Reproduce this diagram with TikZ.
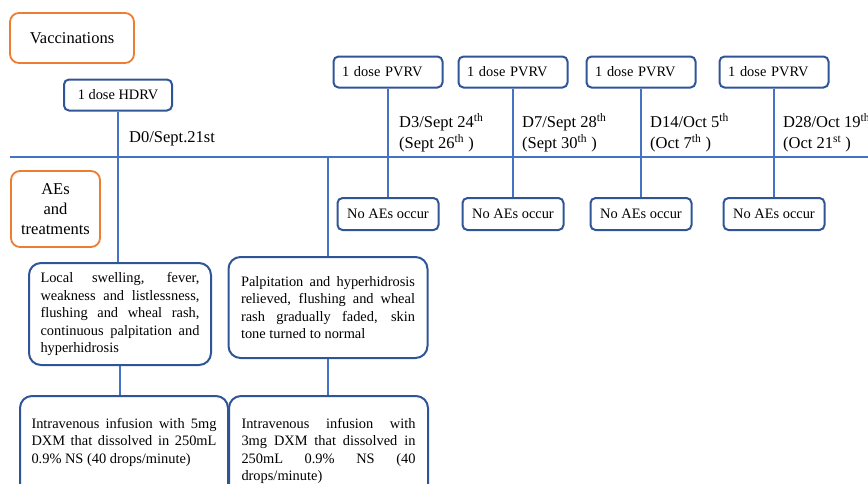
\documentclass[tikz,border=0pt]{standalone}
\usepackage{fontspec}
\setmainfont{Liberation Serif}
\usepackage{tikz}
\usetikzlibrary{positioning, calc}
\usepackage{xcolor}
\definecolor{lineBlue}{HTML}{4472C4}
\definecolor{boxBlue}{HTML}{2F5597}
\definecolor{headOrange}{HTML}{ED7D31}
\tolerance=9999
\hbadness=10000
\hyphenpenalty=10000

\begin{document}
\begin{tikzpicture}[
  x=1pt, y=-1pt,
  bigfont/.style={font=\fontsize{16.5}{20}\selectfont},
  smallfont/.style={font=\fontsize{14.4}{17.5}\selectfont},
  header/.style={rectangle, rounded corners=9pt, draw=headOrange, line width=1.8pt,
                 align=center, inner sep=0pt, bigfont},
  dosebox/.style={rectangle, rounded corners=5pt, draw=boxBlue, line width=2pt,
                  minimum width=108pt, minimum height=31pt, inner sep=0pt, smallfont},
  pvrvbox/.style={dosebox, text width=92pt, align=left, inner xsep=8.5pt},
  aebox/.style={dosebox, minimum width=101pt, minimum height=32pt},
  textbox/.style={rectangle, rounded corners=12pt, draw=boxBlue, line width=2pt,
                  align=justify, inner ysep=0pt, smallfont},
  datelabel/.style={anchor=north west, inner sep=0pt, align=left,
                    font=\fontsize{16.5}{21}\selectfont},
  link/.style={draw=lineBlue, line width=2pt},
]
\useasboundingbox (0,0) rectangle (868,483);

% ── Grid coordinates ───────────────────────────────────────────────
\def\rowDose{72}     % PVRV row y
\def\rowAxis{157}    % time axis y
\def\rowNoAE{214}    % "No AEs" row y
\def\rowDate{113.5}  % top of the two-line date labels
\def\rowInf{395}     % top of the infusion boxes

% ── Row headers ────────────────────────────────────────────────────
\node[header, minimum width=124pt, minimum height=50pt] (vacc) at (72,38) {Vaccinations};
\node[header, minimum width=89pt, minimum height=76pt] (aes) at (55.5,209) {AEs\\and\\treatments};

% ── Time axis ──────────────────────────────────────────────────────
\coordinate (axisL) at (10,\rowAxis);
\coordinate (axisR) at (868,\rowAxis);
\draw[link] (axisL) -- (axisR);

% ── Day 0 ──────────────────────────────────────────────────────────
\node[dosebox] (hdrv) at (118,95) {1 dose HDRV};
\node[datelabel, anchor=base west] (dayZero) at (129,142) {D0/Sept.21st};

\node[textbox, text width=159pt, inner xsep=11.5pt, minimum height=102pt] (local) at (120,314)
  {Local swelling, fever,\linebreak weakness and listlessness,\linebreak flushing and wheal rash,\linebreak continuous palpitation and\linebreak hyperhidrosis};
\node[textbox, anchor=north, text width=185pt, inner xsep=11.5pt, inner ysep=22pt, text depth=80pt] (infA) at (124,\rowInf)
  {Intravenous infusion with 5mg\linebreak DXM that dissolved in 250mL\linebreak 0.9\% NS (40 drops/minute)};

\node[textbox, text width=174pt, inner xsep=12.5pt, minimum height=101pt] (palp) at (328,307.5)
  {Palpitation and hyperhidrosis\linebreak relieved, flushing and wheal\linebreak rash gradually faded, skin\linebreak tone turned to normal};
\node[textbox, anchor=north, text width=174pt, inner xsep=12.5pt, inner ysep=22pt, text depth=80pt] (infB) at (328.5,\rowInf)
  {Intravenous infusion with\linebreak 3mg DXM that dissolved in\linebreak 250mL 0.9\% NS (40\linebreak drops/minute)};

\draw[link] (hdrv) -- (hdrv |- local.north);
\draw[link] (local) -- (local |- infA.north);
\draw[link] (palp.north |- axisL) -- (palp);
\draw[link] (palp) -- (palp |- infB.north);

% ── Booster doses ──────────────────────────────────────────────────
\foreach \x/\n in {388/A, 513/B, 641/C, 774/D} {
  \node[pvrvbox] (pvrv\n) at (\x,\rowDose) {1 dose PVRV};
  \node[aebox] (noae\n) at (\x,\rowNoAE) {No AEs occur};
  \draw[link] (pvrv\n) -- (noae\n);
}

\node[datelabel] (dayThree)  at (399,\rowDate) {D3/Sept 24\textsuperscript{th}\\(Sept 26\textsuperscript{th} )};
\node[datelabel] (daySeven)  at (522,\rowDate) {D7/Sept 28\textsuperscript{th}\\(Sept 30\textsuperscript{th} )};
\node[datelabel] (dayFourteen) at (650,\rowDate) {D14/Oct 5\textsuperscript{th}\\(Oct 7\textsuperscript{th} )};
\node[datelabel] (dayTwentyEight) at (783,\rowDate) {D28/Oct 19\textsuperscript{th}\\(Oct 21\textsuperscript{st} )};

\end{tikzpicture}
\end{document}
